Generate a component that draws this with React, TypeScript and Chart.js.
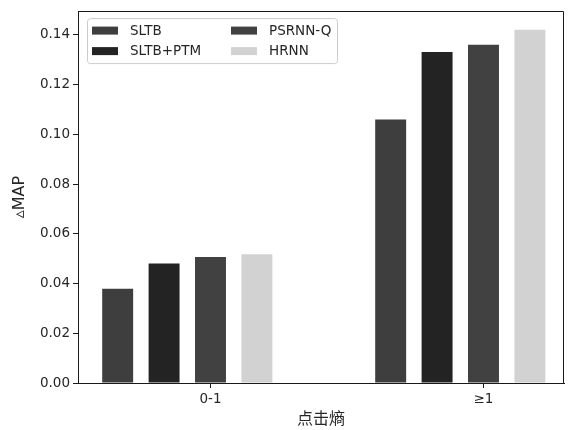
import React, { useEffect, useRef } from "react";
import { Chart, registerables } from "chart.js";

Chart.register(...registerables);

const categories = ["0-1", "≥1"];
const seriesNames = ["SLTB", "SLTB+PTM", "PSRNN-Q", "HRNN"];
const sltb = [0.0379, 0.106];
const sltbPtm = [0.0481, 0.1331];
const psrnnQ = [0.0507, 0.1361];
const hrnn = [0.0518, 0.1421];
const yTicks = [0, 0.02, 0.04, 0.06, 0.08, 0.1, 0.12, 0.14];

const seriesValues = [sltb, sltbPtm, psrnnQ, hrnn];
const colors = ["#3e3e3e", "#232323", "#414141", "#d2d2d2"];
const BAR_PITCH = 0.17;
const TEXT = "#262626";
const FONT = "'DejaVu Sans', sans-serif";

const framePlugin = {
  id: "frameAndLegend",
  afterDraw(chart: any) {
    const { ctx, chartArea } = chart;
    const { left, top, right, bottom } = chartArea;
    ctx.save();
    ctx.strokeStyle = "#1a1a1a";
    ctx.lineWidth = 1;
    ctx.beginPath();
    ctx.moveTo(left, Math.round(top) + 0.5);
    ctx.lineTo(Math.round(right) - 0.5, Math.round(top) + 0.5);
    ctx.lineTo(Math.round(right) - 0.5, bottom);
    ctx.stroke();
    // legend
    const lx = left + 9;
    const ly = top + 7;
    const lw = 250;
    const lh = 45;
    ctx.beginPath();
    ctx.roundRect(lx + 0.5, ly + 0.5, lw, lh, 3);
    ctx.fillStyle = "rgba(255,255,255,0.8)";
    ctx.fill();
    ctx.strokeStyle = "#cccccc";
    ctx.stroke();
    const order = [0, 1, 2, 3];
    ctx.font = `13.5px ${FONT}`;
    ctx.textBaseline = "middle";
    ctx.textAlign = "left";
    order.forEach((idx) => {
      const col = Math.floor(idx / 2);
      const row = idx % 2;
      const px = lx + 5 + col * 139;
      const cy = ly + 12.5 + row * 20.5;
      ctx.fillStyle = colors[idx];
      ctx.fillRect(px, cy - 4, 26, 8);
      ctx.fillStyle = TEXT;
      ctx.fillText(seriesNames[idx], px + 38, cy + 0.5);
    });
    ctx.restore();
  },
};

export default function App() {
  const ref = useRef<HTMLCanvasElement | null>(null);
  useEffect(() => {
    if (!ref.current) return;
    const datasets = seriesNames.map((name, j) => ({
      label: name,
      data: categories.map((_, i) => ({ x: i + (j - 2) * BAR_PITCH, y: seriesValues[j][i] })),
      backgroundColor: colors[j],
      borderWidth: 0,
      grouped: false,
      categoryPercentage: 1,
      barPercentage: 0.667,
    }));
    const chart = new Chart(ref.current, {
      type: "bar",
      data: { datasets },
      options: {
        animation: false,
        responsive: true,
        maintainAspectRatio: false,
        layout: { padding: { top: 8, right: 5, left: 0, bottom: 0 } },
        plugins: { legend: { display: false }, tooltip: { enabled: false } },
        scales: {
          x: {
            type: "linear",
            offset: false,
            min: -0.4853,
            max: 1.2949,
            afterBuildTicks: (s: any) => {
              s.ticks = categories.map((_, i) => ({ value: i }));
            },
            afterFit: (s: any) => {
              s.height = 47;
            },
            grid: { display: true, offset: false, drawOnChartArea: false, drawTicks: true, tickLength: 5, tickColor: "#1a1a1a" },
            border: { display: true, color: "#1a1a1a" },
            ticks: {
              color: TEXT,
              font: { family: FONT, size: 13.5 },
              padding: 3,
              maxRotation: 0,
              autoSkip: false,
              callback: (_v: any, i: number) => categories[i],
            },
            title: {
              display: true,
              text: "点击熵",
              color: TEXT,
              font: { family: "'Noto Sans CJK SC', sans-serif", size: 16 },
              padding: { top: 0, bottom: 2 },
            },
          },
          y: {
            type: "linear",
            min: 0,
            max: 0.1496,
            afterBuildTicks: (s: any) => {
              s.ticks = yTicks.map((v) => ({ value: v }));
            },
            afterFit: (s: any) => {
              s.width = 78;
            },
            grid: { display: true, drawOnChartArea: false, drawTicks: true, tickLength: 5, tickColor: "#1a1a1a" },
            border: { display: true, color: "#1a1a1a" },
            ticks: {
              color: TEXT,
              font: { family: FONT, size: 13.5 },
              padding: 3,
              callback: (v: any) => Number(v).toFixed(2),
            },
            title: {
              display: true,
              text: "▵MAP",
              color: TEXT,
              font: { family: FONT, size: 16 },
              padding: { top: 10, bottom: 0 },
            },
          },
        },
      },
      plugins: [framePlugin],
    });
    return () => chart.destroy();
  }, []);
  return (
    <div style={{ position: "fixed", left: 0, top: 0, width: 569, height: 430, background: "#fff" }}>
      <canvas ref={ref} />
    </div>
  );
}
